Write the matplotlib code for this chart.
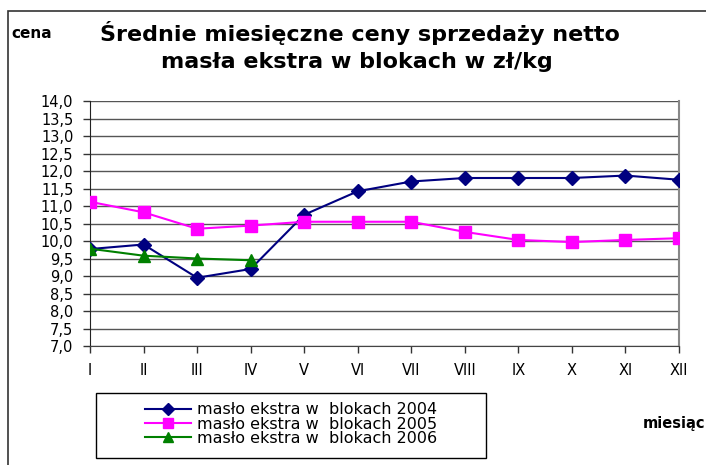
import matplotlib
matplotlib.use("Agg")
import matplotlib.pyplot as plt
from matplotlib.patches import Rectangle

months = ["I", "II", "III", "IV", "V", "VI", "VII", "VIII", "IX", "X", "XI", "XII"]
y_ticks = [7.0, 7.5, 8.0, 8.5, 9.0, 9.5, 10.0, 10.5, 11.0, 11.5, 12.0, 12.5, 13.0, 13.5, 14.0]
s2004 = [9.77, 9.9, 8.95, 9.2, 10.75, 11.42, 11.7, 11.8, 11.8, 11.8, 11.87, 11.75]
s2005 = [11.12, 10.82, 10.35, 10.44, 10.55, 10.55, 10.55, 10.26, 10.03, 9.97, 10.03, 10.08]
s2006 = [9.78, 9.58, 9.5, 9.45]
labels = ["masło ekstra w  blokach 2004", "masło ekstra w  blokach 2005", "masło ekstra w  blokach 2006"]

plt.rcParams['font.family'] = ['DejaVu Sans']

W, H = 706, 465
fig = plt.figure(figsize=(W / 100, H / 100), dpi=100)
fig.patch.set_facecolor("white")

# outer border
fig.add_artist(Rectangle((8 / W, -0.1), 1.0, 1 - 11 / H + 0.1, transform=fig.transFigure,
                         fill=False, edgecolor="#333333", linewidth=1.2))

ax = fig.add_axes([90 / W, 1 - 346 / H, (679 - 90) / W, (346 - 101) / H])
x = list(range(len(months)))
ax.plot(x, s2004, color="#000080", marker="D", markersize=7.5, linewidth=1.5, label=labels[0], zorder=3)
ax.plot(x, s2005, color="#FF00FF", marker="s", markersize=8, linewidth=1.5, label=labels[1], zorder=4)
ax.plot(x[:len(s2006)], s2006, color="#008000", marker="^", markersize=9, linewidth=1.5, label=labels[2], zorder=5)

ax.set_xlim(0, 11)
ax.set_ylim(7.0, 14.0)
ax.set_yticks(y_ticks)
ax.set_yticklabels([f"{v:.1f}".replace(".", ",") for v in y_ticks], fontsize=10.5)
ax.set_xticks(x)
ax.set_xticklabels(months, fontsize=10.5)
ax.yaxis.grid(True, color="#555555", linewidth=1.0)
ax.set_axisbelow(True)
ax.tick_params(axis="y", direction="out", length=5, width=1, pad=7, color="#333333")
ax.tick_params(axis="x", direction="out", length=5, width=1, pad=7, color="#333333")
ax.spines["left"].set_color("#222222")
ax.spines["bottom"].set_color("#444444")
ax.spines["right"].set_color("#888888")
ax.spines["top"].set_visible(False)
ax.spines["right"].set_linewidth(1.5)

fig.text(11 / W, 1 - 34 / H, "cena", fontsize=11, fontweight="bold", va="center", ha="left")
fig.text(360 / W, 1 - 33 / H, "Średnie miesięczne ceny sprzedaży netto", fontsize=16,
         fontweight="bold", va="center", ha="center")
fig.text(357 / W, 1 - 62 / H, "masła ekstra w blokach w zł/kg", fontsize=16,
         fontweight="bold", va="center", ha="center")
fig.text(705 / W, 1 - 423 / H, "miesiąc", fontsize=10.5, fontweight="bold", va="center", ha="right")

# legend frame
fig.add_artist(Rectangle((96 / W, 1 - 458 / H), (486 - 96) / W, (458 - 393) / H,
                         transform=fig.transFigure, fill=False, edgecolor="black", linewidth=1.0))
leg = fig.legend(loc="center", bbox_to_anchor=(291 / W, 1 - 424 / H),
                 fontsize=11.5, frameon=False, markerscale=0.85,
                 borderpad=0.0, labelspacing=-0.05, handlelength=2.9, handletextpad=0.4,
                 borderaxespad=0)

fig.savefig("out.png", dpi=100, facecolor="white")
